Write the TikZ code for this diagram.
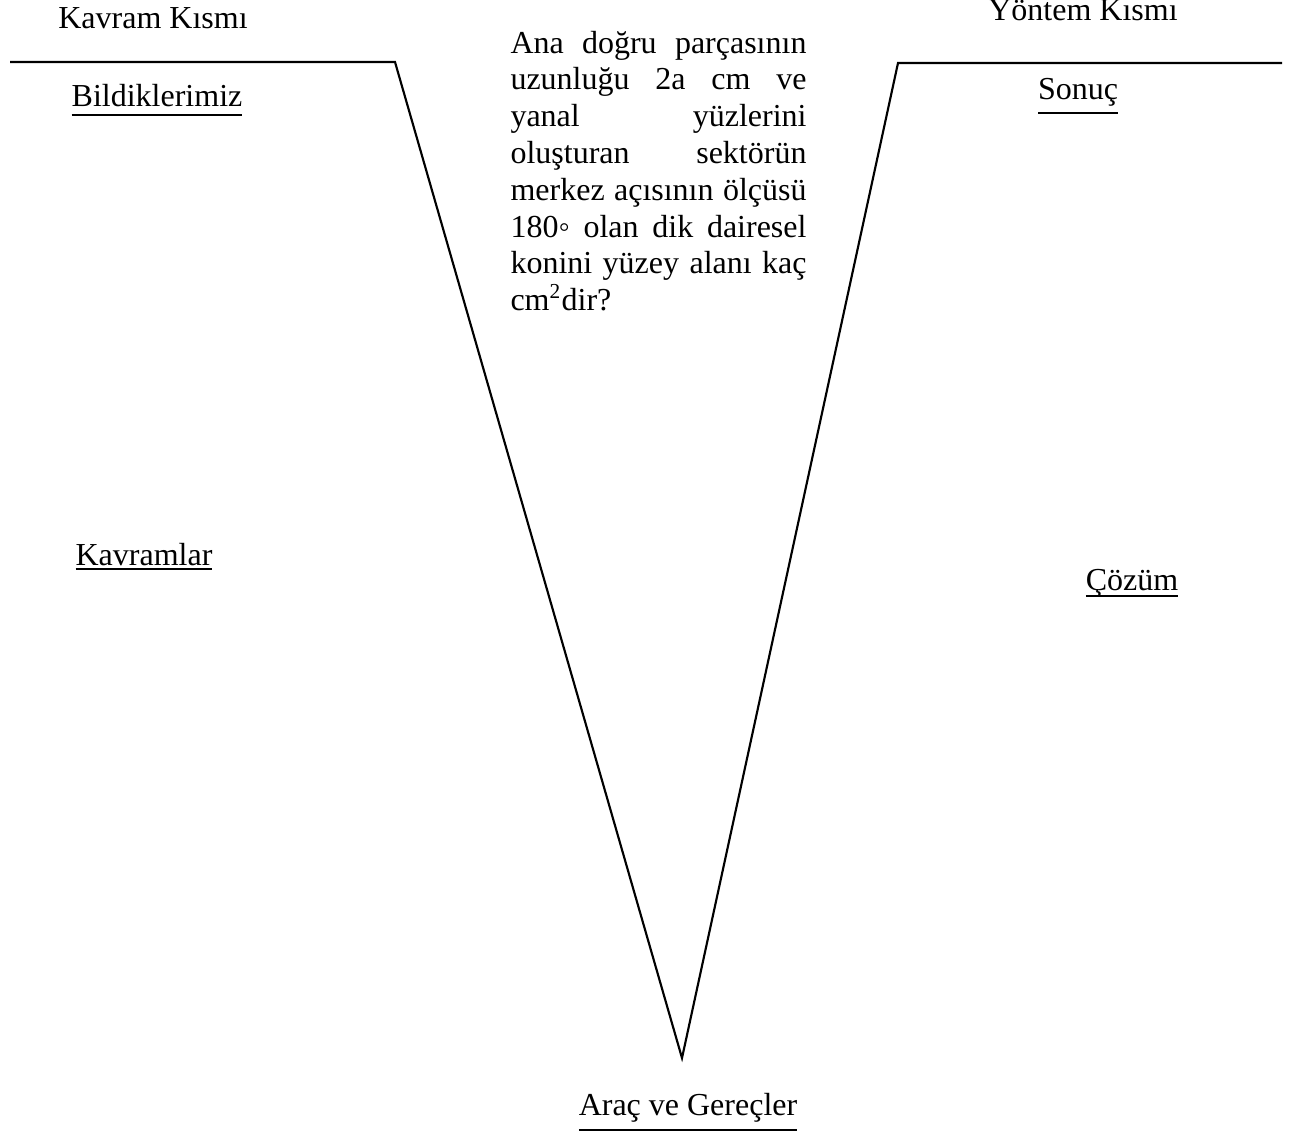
\documentclass[tikz,border=0pt]{standalone}
\usepackage{fontspec}
\setmainfont{Liberation Serif}
\hbadness=10000
% underlined label: rule of fixed thickness set #1 below the baseline
\newcommand\ulbox[2][3pt]{\setbox0=\hbox{#2}\rlap{\rule[-#1]{\wd0}{0.75pt}}\box0}
\newlength\qw
\setlength\qw{111pt}
\newcommand\jline[1]{\hbox to\qw{#1}}
\begin{document}
\begin{tikzpicture}[x=0.375pt,y=-0.375pt,
  lbl/.style={inner sep=0pt,anchor=base,font=\fontsize{12pt}{13.8pt}\selectfont},
  vline/.style={line width=0.8pt,line join=miter}]
\useasboundingbox (0,0) rectangle (1292,1138);

% the V outline
\coordinate (lt) at (10,62);
\coordinate (lc) at (395,62);
\coordinate (tip) at (682,1058);
\coordinate (rc) at (898,63);
\coordinate (rt) at (1282,63);
\draw[vline] (lt) -- (lc) -- (tip) -- (rc) -- (rt);

% section headings
\node[lbl] (kavram) at (153,28) {Kavram Kısmı};
\node[lbl] (yontem) at (1083,20) {Yöntem Kısmı};

% left side labels
\node[lbl] (bild) at (157,106) {\ulbox[3.6pt]{Bildiklerimiz}};
\node[lbl] (kavr) at (144,565) {\ulbox[1.8pt]{Kavramlar}};

% right side labels
\node[lbl] (sonuc) at (1078,99) {\ulbox[5.8pt]{Sonuç}};
\node[lbl] (cozum) at (1132,590) {\ulbox[2.8pt]{Çözüm}};

% bottom label
\node[lbl] (arac) at (688,1115) {\ulbox[6pt]{Araç ve Gereçler}};

% focus question
\node[lbl,anchor=base west] (soru) at (510,53) {\parbox[t]{\qw}{%
  \jline{Ana doğru parçasının}
  \jline{uzunluğu 2a cm ve}
  \jline{yanal yüzlerini}
  \jline{oluşturan sektörün}
  \jline{merkez açısının ölçüsü}
  \jline{180◦ olan dik dairesel}
  \jline{konini yüzey alanı kaç}
  \hbox{cm\textsuperscript{2}dir?}}};
\end{tikzpicture}
\end{document}
